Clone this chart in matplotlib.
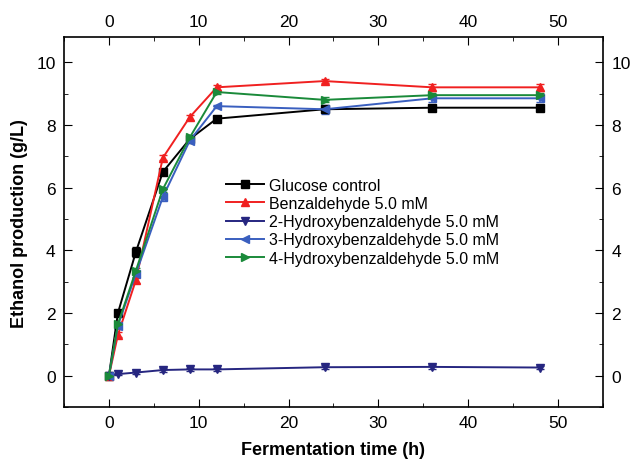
import numpy as np
import matplotlib.pyplot as plt
from matplotlib.ticker import MultipleLocator
from matplotlib.lines import Line2D

plt.rcParams['font.family'] = ['Liberation Sans', 'DejaVu Sans']

# sampling times (h)
time_h = [0, 1, 3, 6, 9, 12, 24, 36, 48]

# ethanol production (g/L)
glucose = [0, 2.0, 3.95, 6.5, 7.55, 8.2, 8.5, 8.55, 8.55]
benz = [0, 1.3, 3.05, 6.95, 8.25, 9.2, 9.4, 9.2, 9.2]
hydroxy2 = [0, 0.05, 0.1, 0.18, 0.2, 0.2, 0.27, 0.28, 0.26]
hydroxy3 = [0, 1.6, 3.25, 5.7, 7.5, 8.6, 8.5, 8.85, 8.85]
hydroxy4 = [0, 1.65, 3.35, 5.95, 7.6, 9.05, 8.8, 8.95, 8.95]

# standard deviations
err_glucose = [0.02, 0.08, 0.15, 0.1, 0.08, 0.08, 0.05, 0.05, 0.05]
err_benz = [0.02, 0.08, 0.08, 0.08, 0.08, 0.08, 0.05, 0.12, 0.12]
err_h2 = [0.02, 0.03, 0.05, 0.06, 0.06, 0.06, 0.06, 0.06, 0.06]
err_h3 = [0.02, 0.1, 0.1, 0.12, 0.05, 0.05, 0.15, 0.12, 0.12]
err_h4 = [0.02, 0.06, 0.08, 0.08, 0.06, 0.05, 0.08, 0.08, 0.08]

labels = ['Glucose control', 'Benzaldehyde 5.0 mM', '2-Hydroxybenzaldehyde 5.0 mM',
          '3-Hydroxybenzaldehyde 5.0 mM', '4-Hydroxybenzaldehyde 5.0 mM']

series = [glucose, benz, hydroxy2, hydroxy3, hydroxy4]
errors = [err_glucose, err_benz, err_h2, err_h3, err_h4]
colors = ['black', '#f02020', '#262680', '#3a5fbf', '#1a8a3a']
markers = ['s', '^', 'v', '<', '>']

fig = plt.figure(figsize=(6.34, 4.6), dpi=100)
ax = fig.add_axes([0.101, 0.113, 0.85, 0.804])

handles = []
for y, e, c, m, lab in zip(series, errors, colors, markers, labels):
    ax.errorbar(time_h, y, yerr=e, color=c, marker=m, markersize=6, lw=1.4,
                capsize=3, elinewidth=1.2)
    handles.append(Line2D([], [], color=c, marker=m, markersize=6, lw=1.4, label=lab))

ax.set_xlim(-5, 55)
ax.set_ylim(-1, 10.8)
ax.xaxis.set_major_locator(MultipleLocator(10))
ax.xaxis.set_minor_locator(MultipleLocator(5))
ax.yaxis.set_major_locator(MultipleLocator(2))
ax.yaxis.set_minor_locator(MultipleLocator(1))
ax.tick_params(which='both', direction='in', top=True, right=True,
               labeltop=True, labelright=True, labelsize=12.5)
ax.tick_params(which='major', length=6, pad=6)
ax.tick_params(which='minor', length=3)
for s in ax.spines.values():
    s.set_linewidth(1.2)

ax.set_xlabel('Fermentation time (h)', fontsize=13, fontweight='bold', labelpad=8)
ax.set_ylabel('Ethanol production (g/L)', fontsize=13, fontweight='bold', labelpad=6)

ax.legend(handles=handles, loc='upper left', bbox_to_anchor=(0.279, 0.65), frameon=False,
          fontsize=11.5, handlelength=2.4, handletextpad=0.3, labelspacing=0.2, borderpad=0.2)

fig.savefig('out.png', dpi=100)
